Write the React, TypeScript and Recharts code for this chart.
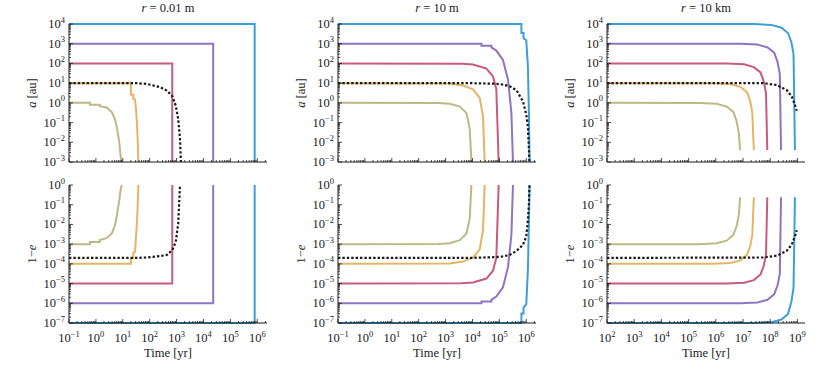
import React from "react";
import { Line, LineChart, XAxis, YAxis } from "recharts";

const FONT = '"Liberation Serif", "Times New Roman", Times, "DejaVu Serif", serif';
const INK = "#1a1a1a";

const OLIVE = "#bdb886";
const ORANGE = "#e4b564";
const RED = "#c85a7e";
const PURPLE = "#8f74c1";
const BLUE = "#3c9fd7";
const BLACK = "#1a1a1a";

type Pt = [number, number];

// labelled ticks (powers of ten); the unlabelled minors 2..9 x 10^n are added in logTicks
const X_TICKS_SHORT = [1e-1, 1e0, 1e1, 1e2, 1e3, 1e4, 1e5, 1e6];
const X_TICKS_LONG = [1e2, 1e3, 1e4, 1e5, 1e6, 1e7, 1e8, 1e9];
const Y_TICKS_A = [1e-3, 1e-2, 1e-1, 1e0, 1e1, 1e2, 1e3, 1e4];
const Y_TICKS_E = [1e-7, 1e-6, 1e-5, 1e-4, 1e-3, 1e-2, 1e-1, 1e0];

const TITLES = ["0.01 m", "10 m", "10 km"];

// r = 0.01 m : a [au]
const p1aOlive: Pt[] = [[0.1, 1], [0.6, 1], [0.6, 0.8], [1.4, 0.8], [1.4, 0.68], [2.5, 0.58], [3.9, 0.34], [5.1, 0.15], [6.2, 0.048], [7.4, 0.01], [8.3, 0.002], [9.1, 0.001]];
const p1aOrange: Pt[] = [[0.1, 10], [20, 10], [20, 2.6], [24.6, 2.6], [24.6, 1.6], [28.5, 1.5], [31, 0.49], [34, 0.07], [36, 0.01], [38, 0.001]];
const p1aRed: Pt[] = [[0.1, 100], [690, 100], [690, 0.001]];
const p1aPurple: Pt[] = [[0.1, 1000], [2.3e4, 1000], [2.3e4, 0.001]];
const p1aBlue: Pt[] = [[0.1, 1e4], [8e5, 1e4], [8e5, 0.001]];
const p1aBlack: Pt[] = [[0.1, 10], [30, 10], [77, 9.2], [240, 6.3], [430, 4.2], [690, 2.2], [930, 0.73], [1150, 0.15], [1340, 0.015], [1450, 0.001]];

// r = 0.01 m : 1-e
const p1eOlive: Pt[] = [[0.1, 1e-3], [0.6, 1e-3], [0.6, 1.3e-3], [1.4, 1.3e-3], [1.4, 1.6e-3], [2.5, 2e-3], [3.9, 3.5e-3], [5.1, 9e-3], [6.2, 0.036], [7.4, 0.17], [8.3, 0.56], [9.1, 1]];
const p1eOrange: Pt[] = [[0.1, 1e-4], [20, 1e-4], [20, 1.9e-4], [24.6, 1.9e-4], [24.6, 3.7e-4], [28.5, 4e-4], [31, 2.4e-3], [34, 0.017], [36, 0.12], [38, 1]];
const p1eRed: Pt[] = [[0.1, 1e-5], [690, 1e-5], [690, 1]];
const p1ePurple: Pt[] = [[0.1, 1e-6], [2.3e4, 1e-6], [2.3e4, 1]];
const p1eBlue: Pt[] = [[0.1, 1e-7], [8e5, 1e-7], [8e5, 1]];
const p1eBlack: Pt[] = [[0.1, 2e-4], [30, 2e-4], [77, 2.1e-4], [240, 2.5e-4], [430, 2.8e-4], [690, 5e-4], [930, 1.3e-3], [1150, 0.011], [1340, 1]];

// r = 10 m : a [au]
const p2aOlive: Pt[] = [[0.1, 1], [500, 0.97], [1440, 0.9], [3400, 0.65], [6000, 0.3], [7900, 0.05], [9100, 0.001]];
const p2aOrange: Pt[] = [[0.1, 10], [1400, 9.7], [4500, 7.6], [10500, 4.8], [18600, 1.8], [24600, 0.21], [28400, 0.001]];
const p2aRed: Pt[] = [[0.1, 100], [4000, 97], [10500, 88], [33000, 55], [58000, 22], [77000, 5], [94000, 0.001]];
const p2aPurple: Pt[] = [[0.1, 1000], [21500, 1000], [21500, 800], [50600, 800], [50600, 650], [77000, 450], [1.36e5, 150], [2.1e5, 15], [2.8e5, 0.3], [3.2e5, 0.001]];
const p2aBlue: Pt[] = [[0.1, 1e4], [6.6e5, 1e4], [6.6e5, 3500], [7.9e5, 3500], [7.9e5, 1900], [1e6, 1500], [1.15e6, 70], [1.26e6, 0.2], [1.32e6, 0.001]];
const p2aBlack: Pt[] = [[0.1, 10], [7900, 10], [77000, 9.3], [1.36e5, 8.5], [2.4e5, 7], [4.3e5, 4.4], [7.5e5, 1.2], [1e6, 0.25], [1.15e6, 0.06], [1.32e6, 0.001]];

// r = 10 m : 1-e
const p2eOlive: Pt[] = [[0.1, 1e-3], [500, 1.03e-3], [1440, 1.1e-3], [3400, 1.6e-3], [6000, 3.5e-3], [7900, 0.02], [9100, 1]];
const p2eOrange: Pt[] = [[0.1, 1e-4], [1400, 1.03e-4], [4500, 1.3e-4], [10500, 2.1e-4], [18600, 5.5e-4], [24600, 5e-3], [28400, 1]];
const p2eRed: Pt[] = [[0.1, 1e-5], [4000, 1.03e-5], [10500, 1.14e-5], [33000, 1.8e-5], [58000, 4.5e-5], [77000, 2e-4], [94000, 1]];
const p2ePurple: Pt[] = [[0.1, 1e-6], [21500, 1e-6], [21500, 1.25e-6], [50600, 1.25e-6], [50600, 1.5e-6], [77000, 2.2e-6], [1.36e5, 6.5e-6], [2.1e5, 7e-5], [2.8e5, 3e-3], [3.2e5, 1]];
const p2eBlue: Pt[] = [[0.1, 1e-7], [6.6e5, 1e-7], [6.6e5, 3e-7], [7.9e5, 3e-7], [7.9e5, 6e-7], [1e6, 9e-7], [1.15e6, 5e-5], [1.26e6, 0.017], [1.32e6, 1]];
const p2eBlack: Pt[] = [[0.1, 2e-4], [7900, 2e-4], [77000, 2.2e-4], [1.36e5, 2.4e-4], [2.4e5, 2.8e-4], [4.3e5, 4.5e-4], [7.5e5, 9e-4], [1e6, 2.5e-3], [1.15e6, 0.017], [1.26e6, 0.12], [1.32e6, 1]];

// r = 10 km : a [au]
const p3aOlive: Pt[] = [[100, 1], [2.6e5, 0.99], [1.07e6, 0.9], [2.5e6, 0.65], [4.4e6, 0.35], [5.8e6, 0.12], [7e6, 0.03], [7.8e6, 0.004]];
const p3aOrange: Pt[] = [[100, 10], [8e5, 9.9], [3.4e6, 9], [8e6, 6.5], [1.4e7, 3.5], [1.85e7, 1.2], [2.2e7, 0.3], [2.5e7, 0.004]];
const p3aRed: Pt[] = [[100, 100], [2.6e6, 99], [1.1e7, 90], [2.5e7, 65], [4.4e7, 35], [5.8e7, 12], [7e7, 3], [7.8e7, 0.004]];
const p3aPurple: Pt[] = [[100, 1000], [8e6, 990], [3.4e7, 900], [8e7, 650], [1.4e8, 350], [1.85e8, 120], [2.25e8, 30], [2.5e8, 0.004]];
const p3aBlue: Pt[] = [[100, 1e4], [2.6e7, 9900], [1.1e8, 9000], [2.6e8, 6500], [4.5e8, 3500], [6e8, 1200], [7.2e8, 300], [8.1e8, 0.004]];
const p3aBlack: Pt[] = [[100, 10], [5.6e7, 10], [1.74e8, 8], [4e8, 4.5], [6.2e8, 2.1], [8.9e8, 0.55], [9.4e8, 0.4]];

// r = 10 km : 1-e
const p3eOlive: Pt[] = [[100, 1e-3], [2.6e5, 1e-3], [1.07e6, 1.1e-3], [2.5e6, 1.5e-3], [4.4e6, 2.9e-3], [5.8e6, 8e-3], [7e6, 0.03], [7.8e6, 0.24]];
const p3eOrange: Pt[] = [[100, 1e-4], [8e5, 1e-4], [3.4e6, 1.1e-4], [8e6, 1.5e-4], [1.4e7, 2.9e-4], [1.85e7, 8e-4], [2.2e7, 3e-3], [2.5e7, 0.24]];
const p3eRed: Pt[] = [[100, 1e-5], [2.6e6, 1e-5], [1.1e7, 1.1e-5], [2.5e7, 1.5e-5], [4.4e7, 2.9e-5], [5.8e7, 8e-5], [7e7, 3e-4], [7.8e7, 0.24]];
const p3ePurple: Pt[] = [[100, 1e-6], [8e6, 1e-6], [3.4e7, 1.1e-6], [8e7, 1.5e-6], [1.4e8, 2.9e-6], [1.85e8, 8e-6], [2.25e8, 3e-5], [2.5e8, 0.24]];
const p3eBlue: Pt[] = [[100, 1e-7], [2.6e7, 1e-7], [1.1e8, 1.1e-7], [2.6e8, 1.5e-7], [4.5e8, 2.9e-7], [6e8, 1.2e-6], [7.2e8, 6e-6], [8.1e8, 0.24]];
const p3eBlack: Pt[] = [[100, 2e-4], [5.6e7, 2.1e-4], [1.74e8, 2.6e-4], [4e8, 4.5e-4], [6.2e8, 9.5e-4], [8.9e8, 3.6e-3], [9.4e8, 5e-3]];

interface Series {
  pts: Pt[];
  color: string;
  dashed?: boolean;
}

const set = (o: Pt[], y: Pt[], r: Pt[], p: Pt[], b: Pt[], k: Pt[]): Series[] => [
  { pts: o, color: OLIVE },
  { pts: y, color: ORANGE },
  { pts: r, color: RED },
  { pts: p, color: PURPLE },
  { pts: b, color: BLUE },
  { pts: k, color: BLACK, dashed: true },
];

// layout (px)
const COL_LEFT = [69, 338, 607];
const ROW_TOP = [24, 185];
const PW = 198;
const PH = 138;
const ML = 60;
const MT = 8;
const MR = 8;

const AXIS = { stroke: INK, strokeWidth: 1 };
const TXT = { fontFamily: FONT };

// majors plus minor ticks at 2..9 x 10^n inside the domain
function logTicks(majors: number[], lo: number, hi: number) {
  const out: number[] = [];
  for (const base of [majors[0] / 10, ...majors]) {
    for (let m = 1; m <= 9; m++) {
      const v = m * base;
      if (v >= lo * 0.9999 && v <= hi * 1.0001) out.push(v);
    }
  }
  return out;
}

const isMajor = (v: number) => Math.abs(Math.log10(v) - Math.round(Math.log10(v))) < 1e-6;
const expo = (v: number) => {
  const e = Math.round(Math.log10(v));
  return e < 0 ? "\u2212" + -e : String(e);
};

function Pow({ x, y, v, anchor }: { x: number; y: number; v: number; anchor: "middle" | "end" }) {
  return (
    <text x={x} y={y} textAnchor={anchor} style={TXT} fontSize={12.5} fill={INK}>
      <tspan>10</tspan>
      <tspan dy={-5.5} fontSize={8.5}>
        {expo(v)}
      </tspan>
    </text>
  );
}

function tickX(side: "bottom" | "top", labels: boolean) {
  return (p: any) => {
    const v = p.payload.value;
    const major = isMajor(v);
    const len = major ? 4 : 2;
    const dir = side === "bottom" ? -1 : 1;
    return (
      <g>
        <line x1={p.x} x2={p.x} y1={p.y} y2={p.y + dir * len} stroke={INK} strokeWidth={0.8} />
        {labels && major && side === "bottom" && <Pow x={p.x} y={p.y + 19} v={v} anchor="middle" />}
      </g>
    );
  };
}

function tickY(side: "left" | "right") {
  return (p: any) => {
    const v = p.payload.value;
    const major = isMajor(v);
    const len = major ? 4 : 2;
    const dir = side === "left" ? 1 : -1;
    return (
      <g>
        <line x1={p.x} x2={p.x + dir * len} y1={p.y} y2={p.y} stroke={INK} strokeWidth={0.8} />
        {major && side === "left" && <Pow x={p.x - 4} y={p.y + 4} v={v} anchor="end" />}
      </g>
    );
  };
}

function Panel({
  left,
  top,
  xMajor,
  xDomain,
  yMajor,
  series,
  xLabels,
}: {
  left: number;
  top: number;
  xMajor: number[];
  xDomain: [number, number];
  yMajor: number[];
  series: Series[];
  xLabels: boolean;
}) {
  const xh = xLabels ? 30 : 6;
  const yDomain: [number, number] = [yMajor[0], yMajor[yMajor.length - 1]];
  const xTicks = logTicks(xMajor, xDomain[0], xDomain[1]);
  const yTicks = logTicks(yMajor, yDomain[0], yDomain[1]);
  return (
    <div style={{ position: "absolute", left: left - ML, top: top - MT }}>
      <LineChart width={ML + PW + MR} height={MT + PH + xh} margin={{ top: MT, right: MR, bottom: 0, left: 0 }}>
        <XAxis
          xAxisId="b"
          dataKey="t"
          type="number"
          scale="log"
          domain={xDomain}
          ticks={xTicks}
          interval={0}
          height={xh}
          tickSize={0}
          tickMargin={0}
          tickLine={false}
          axisLine={AXIS}
          tick={tickX("bottom", xLabels)}
        />
        <XAxis
          xAxisId="t"
          orientation="top"
          dataKey="t"
          type="number"
          scale="log"
          domain={xDomain}
          allowDataOverflow
          ticks={xTicks}
          interval={0}
          height={0}
          tickSize={0}
          tickMargin={0}
          tickLine={false}
          axisLine={AXIS}
          tick={tickX("top", false)}
        />
        <YAxis
          yAxisId="l"
          type="number"
          scale="log"
          domain={yDomain}
          ticks={yTicks}
          interval={0}
          width={ML}
          tickSize={0}
          tickMargin={0}
          tickLine={false}
          axisLine={AXIS}
          tick={tickY("left")}
        />
        <YAxis
          yAxisId="r"
          orientation="right"
          type="number"
          scale="log"
          domain={yDomain}
          allowDataOverflow
          ticks={yTicks}
          interval={0}
          width={0}
          tickSize={0}
          tickMargin={0}
          tickLine={false}
          axisLine={AXIS}
          tick={tickY("right")}
        />
        {series.map((s, i) => (
          <Line
            key={i}
            xAxisId="b"
            yAxisId="l"
            data={s.pts.map(([t, v]) => ({ t, v }))}
            dataKey="v"
            type="linear"
            stroke={s.color}
            strokeWidth={s.dashed ? 2.2 : 2}
            strokeDasharray={s.dashed ? "2.4 2" : undefined}
            dot={false}
            activeDot={false}
            isAnimationActive={false}
          />
        ))}
      </LineChart>
    </div>
  );
}

export default function App() {
  const xMajors = [X_TICKS_SHORT, X_TICKS_SHORT, X_TICKS_LONG];
  const xDomains: [number, number][] = [
    [0.1, 2.3e6],
    [0.1, 2.3e6],
    [100, 1.9e9],
  ];
  const aSets = [
    set(p1aOlive, p1aOrange, p1aRed, p1aPurple, p1aBlue, p1aBlack),
    set(p2aOlive, p2aOrange, p2aRed, p2aPurple, p2aBlue, p2aBlack),
    set(p3aOlive, p3aOrange, p3aRed, p3aPurple, p3aBlue, p3aBlack),
  ];
  const eSets = [
    set(p1eOlive, p1eOrange, p1eRed, p1ePurple, p1eBlue, p1eBlack),
    set(p2eOlive, p2eOrange, p2eRed, p2ePurple, p2eBlue, p2eBlack),
    set(p3eOlive, p3eOrange, p3eRed, p3ePurple, p3eBlue, p3eBlack),
  ];

  return (
    <div style={{ position: "fixed", left: 0, top: 0, width: 830, height: 367, background: "#fff", overflow: "hidden" }}>
      {COL_LEFT.map((left, c) => (
        <React.Fragment key={c}>
          <Panel left={left} top={ROW_TOP[0]} xMajor={xMajors[c]} xDomain={xDomains[c]} yMajor={Y_TICKS_A} series={aSets[c]} xLabels={false} />
          <Panel left={left} top={ROW_TOP[1]} xMajor={xMajors[c]} xDomain={xDomains[c]} yMajor={Y_TICKS_E} series={eSets[c]} xLabels={true} />
        </React.Fragment>
      ))}
      <svg width={830} height={367} style={{ position: "absolute", left: 0, top: 0, pointerEvents: "none" }}>
        {COL_LEFT.map((left, c) => {
          const cx = left + PW / 2;
          const ly = left - 37;
          return (
            <g key={c} style={TXT} fill={INK} fontSize={12.5}>
              <text x={cx} y={11.5} textAnchor="middle" style={TXT}>
                <tspan fontStyle="italic">r</tspan> = {TITLES[c]}
              </text>
              <text
                x={ly}
                y={ROW_TOP[0] + PH / 2}
                textAnchor="middle"
                dominantBaseline="central"
                style={TXT}
                transform={`rotate(-90 ${ly} ${ROW_TOP[0] + PH / 2})`}
              >
                <tspan fontStyle="italic">a</tspan> [au]
              </text>
              <text
                x={ly}
                y={ROW_TOP[1] + PH / 2}
                textAnchor="middle"
                dominantBaseline="central"
                style={TXT}
                transform={`rotate(-90 ${ly} ${ROW_TOP[1] + PH / 2})`}
              >
                1{"\u2212"}
                <tspan fontStyle="italic">e</tspan>
              </text>
              <text x={cx} y={357} textAnchor="middle" style={TXT}>
                Time [yr]
              </text>
            </g>
          );
        })}
      </svg>
    </div>
  );
}
